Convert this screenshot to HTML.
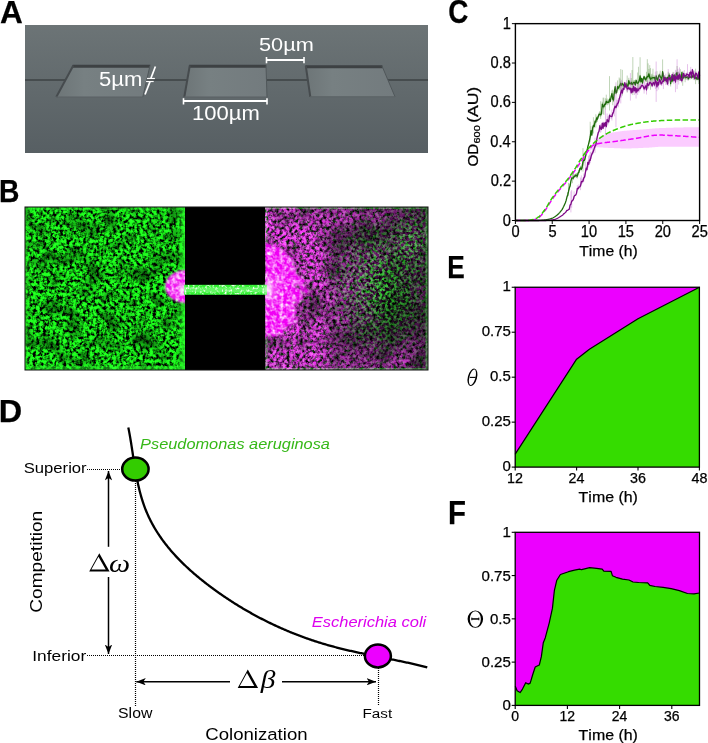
<!DOCTYPE html><html><head><meta charset="utf-8"><style>html,body{margin:0;padding:0;background:#fff;}svg{display:block;}text{font-kerning:none;stroke-width:0.25px;paint-order:stroke;}</style></head><body><svg width="708" height="743" viewBox="0 0 708 743">
<rect width="708" height="743" fill="#fff"/>
<defs><linearGradient id="ga" x1="0" y1="0" x2="0" y2="1"><stop offset="0" stop-color="#6c7476"/><stop offset="1" stop-color="#575f63"/></linearGradient><linearGradient id="gt" x1="0" y1="0" x2="1" y2="0"><stop offset="0" stop-color="#6d7577"/><stop offset="0.3" stop-color="#778082"/><stop offset="1" stop-color="#737b7e"/></linearGradient></defs>
<rect x="25" y="25" width="403" height="128" fill="url(#ga)"/>
<rect x="25" y="79.2" width="403" height="1.6" fill="#404547"/>
<polygon points="73,65.5 150,65.5 142.8,97 56,97" fill="url(#gt)"/>
<polygon points="72.7,64.7 150.3,64.7 149.5,67.7 71.81,67.7" fill="#3d4143"/>
<line x1="73.3" y1="65.5" x2="56.3" y2="97" stroke="#464b4e" stroke-width="2"/>
<line x1="150" y1="65.5" x2="142.8" y2="97" stroke="#50575a" stroke-width="1"/>
<line x1="56" y1="97" x2="142.8" y2="97" stroke="#5a6164" stroke-width="1"/>
<polygon points="189.5,65.5 266,65.5 267,97 184,97" fill="url(#gt)"/>
<polygon points="189.2,64.7 266.3,64.7 266.07,67.7 189.12,67.7" fill="#3d4143"/>
<line x1="189.8" y1="65.5" x2="184.3" y2="97" stroke="#464b4e" stroke-width="2"/>
<line x1="266" y1="65.5" x2="267" y2="97" stroke="#50575a" stroke-width="1"/>
<line x1="184" y1="97" x2="267" y2="97" stroke="#5a6164" stroke-width="1"/>
<polygon points="305.5,66 382,66 395,96.8 310,96.8" fill="url(#gt)"/>
<polygon points="305.2,65.2 382.3,65.2 382.93,68.2 305.82,68.2" fill="#3d4143"/>
<line x1="305.8" y1="66" x2="310.3" y2="96.8" stroke="#464b4e" stroke-width="2"/>
<line x1="382" y1="66" x2="395" y2="96.8" stroke="#50575a" stroke-width="1"/>
<line x1="310" y1="96.8" x2="395" y2="96.8" stroke="#5a6164" stroke-width="1"/>
<text x="99.02" y="85.6" font-size="19.62" font-weight="normal" font-style="normal" fill="#ffffff" stroke="none" font-family='"Liberation Sans", sans-serif' textLength="43.34" lengthAdjust="spacingAndGlyphs" >5µm</text>
<line x1="155.4" y1="66.5" x2="150.9" y2="78.3" stroke="#ffffff" stroke-width="1.7"/>
<line x1="150" y1="81.6" x2="145" y2="94.5" stroke="#ffffff" stroke-width="1.7"/>
<line x1="147" y1="78.5" x2="154.9" y2="78.5" stroke="#ffffff" stroke-width="1.2"/>
<line x1="146.1" y1="81.5" x2="153.7" y2="81.5" stroke="#ffffff" stroke-width="1.2"/>
<line x1="183.5" y1="101" x2="267" y2="101" stroke="#ffffff" stroke-width="2"/>
<line x1="183.5" y1="98.2" x2="183.5" y2="104.5" stroke="#ffffff" stroke-width="1.6"/>
<line x1="267" y1="98.2" x2="267" y2="104.5" stroke="#ffffff" stroke-width="1.6"/>
<text x="192.12" y="119.9" font-size="19.33" font-weight="normal" font-style="normal" fill="#ffffff" stroke="none" font-family='"Liberation Sans", sans-serif' textLength="67.73" lengthAdjust="spacingAndGlyphs" >100µm</text>
<line x1="266.5" y1="60" x2="304" y2="60" stroke="#ffffff" stroke-width="2"/>
<line x1="266.5" y1="57" x2="266.5" y2="63.3" stroke="#ffffff" stroke-width="1.6"/>
<line x1="304" y1="57" x2="304" y2="63.3" stroke="#ffffff" stroke-width="1.6"/>
<text x="259.03" y="51.2" font-size="18.46" font-weight="normal" font-style="normal" fill="#ffffff" stroke="none" font-family='"Liberation Sans", sans-serif' textLength="54.8" lengthAdjust="spacingAndGlyphs" >50µm</text>
<defs><filter id="ngreen" x="0" y="0" width="1" height="1" color-interpolation-filters="sRGB"><feTurbulence type="fractalNoise" baseFrequency="0.3" numOctaves="3" seed="3" result="n"/><feColorMatrix in="n" type="matrix" values="0.32 0 0 0 -0.09  3.2 0 0 0 -0.92  0.32 0 0 0 -0.09  0 0 0 0 1" result="c"/><feTurbulence type="fractalNoise" baseFrequency="0.06" numOctaves="2" seed="11" result="l"/><feColorMatrix in="l" type="matrix" values="1.5 0 0 0 0.2  1.5 0 0 0 0.2  1.5 0 0 0 0.2  0 0 0 0 1" result="lm"/><feComposite in="c" in2="lm" operator="arithmetic" k1="1" k2="0" k3="0" k4="0" result="c"/><feGaussianBlur in="c" stdDeviation="0.55"/></filter><filter id="nmag" x="0" y="0" width="1" height="1" color-interpolation-filters="sRGB"><feTurbulence type="fractalNoise" baseFrequency="0.3" numOctaves="3" seed="9" result="n"/><feColorMatrix in="n" type="matrix" values="2.7 0 0 0 -0.68  0.54 0 0 0 -0.14  2.7 0 0 0 -0.68  0 0 0 0 1" result="c"/><feTurbulence type="fractalNoise" baseFrequency="0.04" numOctaves="2" seed="4" result="l"/><feColorMatrix in="l" type="matrix" values="1.4 0 0 0 0.15  1.4 0 0 0 0.15  1.4 0 0 0 0.15  0 0 0 0 1" result="lm"/><feComposite in="c" in2="lm" operator="arithmetic" k1="1" k2="0" k3="0" k4="0" result="c"/><feGaussianBlur in="c" stdDeviation="0.6"/></filter><filter id="ngreen2" x="0" y="0" width="1" height="1" color-interpolation-filters="sRGB"><feTurbulence type="fractalNoise" baseFrequency="0.34" numOctaves="2" seed="21" result="n"/><feColorMatrix in="n" type="matrix" values="0.57 0 0 0 -0.22  3.8 0 0 0 -1.5  0.57 0 0 0 -0.22  0 0 0 0 1" result="c"/><feGaussianBlur in="c" stdDeviation="0.55"/></filter><filter id="nwhite" x="0" y="0" width="1" height="1" color-interpolation-filters="sRGB"><feTurbulence type="fractalNoise" baseFrequency="0.25" numOctaves="3" seed="31" result="n"/><feColorMatrix in="n" type="matrix" values="3 0 0 0 -1.15  2.1 0 0 0 -0.8  3 0 0 0 -1.15  0 0 0 0 1" result="c"/><feGaussianBlur in="c" stdDeviation="0.6"/></filter><filter id="nwhite2" x="0" y="0" width="1" height="1" color-interpolation-filters="sRGB"><feTurbulence type="fractalNoise" baseFrequency="0.4" numOctaves="2" seed="41" result="n"/><feColorMatrix in="n" type="matrix" values="2.8 0 0 0 -1.4  3.5 0 0 0 -1.75  2.8 0 0 0 -1.4  0 0 0 0 1" result="c"/><feGaussianBlur in="c" stdDeviation="0.5"/></filter><linearGradient id="mmag" x1="265" y1="0" x2="428" y2="0" gradientUnits="userSpaceOnUse"><stop offset="0" stop-color="#fff"/><stop offset="0.35" stop-color="#f0f0f0"/><stop offset="0.58" stop-color="#707070"/><stop offset="1" stop-color="#505050"/></linearGradient><radialGradient id="rg" cx="0.5" cy="0.5" r="0.5"><stop offset="0" stop-color="#fff" stop-opacity="1"/><stop offset="1" stop-color="#fff" stop-opacity="0"/></radialGradient><radialGradient id="rgk" cx="0.5" cy="0.5" r="0.5"><stop offset="0" stop-color="#000" stop-opacity="0.8"/><stop offset="1" stop-color="#000" stop-opacity="0"/></radialGradient><mask id="mm"><rect x="265" y="207" width="163" height="163" fill="url(#mmag)"/><ellipse cx="395" cy="362" rx="60" ry="28" fill="url(#rg)" opacity="0.7"/><ellipse cx="360" cy="215" rx="50" ry="20" fill="url(#rg)" opacity="0.5"/><ellipse cx="392" cy="300" rx="30" ry="50" fill="url(#rgk)"/></mask><mask id="mg"><rect x="265" y="207" width="163" height="163" fill="#383838"/><ellipse cx="380" cy="285" rx="55" ry="75" fill="url(#rg)" opacity="0.75"/><ellipse cx="412" cy="240" rx="25" ry="35" fill="url(#rg)" opacity="0.6"/></mask><filter id="blobn" x="0" y="0" width="1" height="1" color-interpolation-filters="sRGB"><feTurbulence type="fractalNoise" baseFrequency="0.07" numOctaves="3" seed="5" result="t"/><feDisplacementMap in="SourceGraphic" in2="t" scale="26" xChannelSelector="R" yChannelSelector="G"/><feGaussianBlur stdDeviation="1.8"/></filter><mask id="mblob"><g filter="url(#blobn)"><rect x="230" y="225" width="100" height="130" fill="#000"/><ellipse cx="268" cy="292" rx="33" ry="45" fill="#fff"/></g></mask><mask id="mblobW"><ellipse cx="270" cy="290" rx="12" ry="20" fill="url(#rg)"/></mask><filter id="bl1"><feGaussianBlur stdDeviation="1.2"/></filter><mask id="mblobL"><g filter="url(#bl1)"><ellipse cx="186" cy="286.5" rx="21" ry="16.5" fill="#fff"/></g></mask><linearGradient id="edgeg" x1="0" y1="0" x2="1" y2="0"><stop offset="0" stop-color="#20ff20" stop-opacity="0"/><stop offset="1" stop-color="#30ff30" stop-opacity="0.85"/></linearGradient><linearGradient id="edgeg2" x1="0" y1="0" x2="1" y2="0"><stop offset="0" stop-color="#30ff30" stop-opacity="0.6"/><stop offset="1" stop-color="#20ff20" stop-opacity="0"/></linearGradient><filter id="bl05"><feGaussianBlur stdDeviation="0.6"/></filter><clipPath id="cCh"><rect x="185" y="285" width="81" height="9.5"/></clipPath><radialGradient id="rgw" cx="0.5" cy="0.5" r="0.5"><stop offset="0" stop-color="#e0ffe0" stop-opacity="0.8"/><stop offset="1" stop-color="#e0ffe0" stop-opacity="0"/></radialGradient><clipPath id="cR"><rect x="265.5" y="207" width="162.5" height="163"/></clipPath><clipPath id="cL"><rect x="140" y="207" width="45" height="163"/></clipPath></defs>
<rect x="25" y="207" width="403" height="163" fill="#000"/>
<rect x="25" y="207" width="160" height="163" fill="#000" filter="url(#ngreen)"/>
<rect x="177" y="207" width="8" height="163" fill="url(#edgeg)"/>
<rect x="25" y="207" width="5" height="163" fill="url(#edgeg2)"/>
<rect x="25" y="207" width="160" height="3" fill="#30ff30" opacity="0.35"/>
<rect x="25" y="366" width="160" height="4" fill="#30ff30" opacity="0.45"/>
<g mask="url(#mm)"><rect x="265" y="207" width="163" height="163" fill="#000" filter="url(#nmag)"/></g>
<g mask="url(#mg)" style="mix-blend-mode:screen"><rect x="265" y="207" width="163" height="163" fill="#000" filter="url(#ngreen2)"/></g>
<g opacity="0.45" style="mix-blend-mode:screen"><rect x="265" y="207" width="163" height="2" fill="#20d020"/><rect x="265" y="368" width="163" height="2" fill="#20d020"/><rect x="425.5" y="207" width="2.5" height="163" fill="#20d020"/><rect x="265.5" y="207" width="2" height="163" fill="#20d020"/></g>
<g clip-path="url(#cR)"><g mask="url(#mblob)"><rect x="230" y="225" width="100" height="130" fill="#f000f4"/><rect x="230" y="225" width="100" height="130" fill="#000" filter="url(#nwhite)" style="mix-blend-mode:screen"/></g><g mask="url(#mblobW)"><rect x="255" y="265" width="30" height="50" fill="#ffe8ff" opacity="0.45"/></g></g>
<g clip-path="url(#cL)"><g mask="url(#mblobL)"><rect x="150" y="255" width="45" height="60" fill="#f018f0"/><rect x="150" y="255" width="45" height="60" fill="#000" filter="url(#nwhite)" style="mix-blend-mode:screen"/></g></g>
<g filter="url(#bl05)"><rect x="184" y="284.8" width="83" height="10" fill="#33f033"/><rect x="184" y="287.3" width="83" height="5" fill="#a0ffa0" opacity="0.45"/></g>
<g clip-path="url(#cCh)" style="mix-blend-mode:screen"><rect x="185" y="285" width="81" height="9.5" fill="#000" filter="url(#nwhite2)"/></g>
<ellipse cx="182" cy="289" rx="5" ry="8" fill="url(#rgw)" style="mix-blend-mode:screen"/>
<ellipse cx="268" cy="289" rx="6" ry="9" fill="url(#rgw)" style="mix-blend-mode:screen"/>
<rect x="25" y="207" width="403" height="163" fill="none" stroke="#111" stroke-width="1"/>
<path d="M583.19 155.54L584.16 154.24L585.14 152.97L586.12 151.71L587.1 150.48L588.08 149.27L589.06 148.09L590.03 146.91L591.01 145.71L591.99 144.52L592.97 143.36L593.95 142.25L594.92 141.21L595.9 140.27L596.88 139.43L597.86 138.62L598.84 137.85L599.82 137.11L600.79 136.44L601.77 135.84L602.75 135.32L603.73 134.9L604.71 134.56L605.69 134.24L606.66 133.94L607.64 133.66L608.62 133.39L609.6 133.14L610.58 132.91L611.56 132.7L612.53 132.5L613.51 132.31L614.49 132.14L615.47 131.97L616.45 131.82L617.43 131.68L618.4 131.54L619.38 131.42L620.36 131.3L621.34 131.18L622.32 131.07L623.29 130.97L624.27 130.87L625.25 130.77L626.23 130.68L627.21 130.6L628.19 130.51L629.16 130.43L630.14 130.35L631.12 130.27L632.1 130.2L633.08 130.12L634.06 130.05L635.03 129.98L636.01 129.91L636.99 129.83L637.97 129.76L638.95 129.69L639.93 129.61L640.9 129.54L641.88 129.46L642.86 129.38L643.84 129.3L644.82 129.21L645.8 129.13L646.77 129.05L647.75 128.97L648.73 128.89L649.71 128.8L650.69 128.73L651.66 128.65L652.64 128.57L653.62 128.5L654.6 128.43L655.58 128.36L656.56 128.29L657.53 128.23L658.51 128.18L659.49 128.12L660.47 128.07L661.45 128.03L662.43 127.99L663.4 127.96L664.38 127.93L665.36 127.89L666.34 127.86L667.32 127.83L668.3 127.79L669.27 127.76L670.25 127.73L671.23 127.7L672.21 127.67L673.19 127.64L674.16 127.61L675.14 127.59L676.12 127.56L677.1 127.53L678.08 127.51L679.06 127.48L680.03 127.46L681.01 127.43L681.99 127.41L682.97 127.39L683.95 127.37L684.93 127.35L685.9 127.33L686.88 127.31L687.86 127.29L688.84 127.28L689.82 127.26L690.8 127.25L691.77 127.24L692.75 127.23L693.73 127.22L694.71 127.21L695.69 127.21L696.67 127.2L697.64 127.2L698.62 127.19L699.6 127.19L699.6 146.68L698.62 146.68L697.64 146.68L696.67 146.68L695.69 146.68L694.71 146.68L693.73 146.68L692.75 146.68L691.77 146.68L690.8 146.68L689.82 146.68L688.84 146.68L687.86 146.68L686.88 146.68L685.9 146.68L684.93 146.68L683.95 146.68L682.97 146.68L681.99 146.68L681.01 146.68L680.03 146.68L679.06 146.68L678.08 146.68L677.1 146.68L676.12 146.68L675.14 146.68L674.16 146.68L673.19 146.68L672.21 146.68L671.23 146.68L670.25 146.68L669.27 146.68L668.3 146.68L667.32 146.68L666.34 146.68L665.36 146.68L664.38 146.68L663.4 146.68L662.43 146.68L661.45 146.7L660.47 146.73L659.49 146.78L658.51 146.84L657.53 146.91L656.56 146.99L655.58 147.07L654.6 147.16L653.62 147.25L652.64 147.33L651.66 147.42L650.69 147.5L649.71 147.57L648.73 147.63L647.75 147.68L646.77 147.73L645.8 147.77L644.82 147.82L643.84 147.87L642.86 147.92L641.88 147.97L640.9 148.01L639.93 148.06L638.95 148.1L637.97 148.15L636.99 148.19L636.01 148.23L635.03 148.27L634.06 148.3L633.08 148.33L632.1 148.36L631.12 148.39L630.14 148.41L629.16 148.43L628.19 148.44L627.21 148.45L626.23 148.45L625.25 148.45L624.27 148.45L623.29 148.43L622.32 148.42L621.34 148.4L620.36 148.37L619.38 148.35L618.4 148.32L617.43 148.28L616.45 148.25L615.47 148.21L614.49 148.17L613.51 148.12L612.53 148.08L611.56 148.03L610.58 147.99L609.6 147.94L608.62 147.89L607.64 147.84L606.66 147.8L605.69 147.75L604.71 147.71L603.73 147.66L602.75 147.61L601.77 147.54L600.79 147.47L599.82 147.41L598.84 147.35L597.86 147.3L596.88 147.27L595.9 147.31L594.92 147.54L593.95 147.97L592.97 148.54L591.99 149.23L591.01 149.99L590.03 150.81L589.06 151.62L588.08 152.54L587.1 153.66L586.12 154.94L585.14 156.35L584.16 157.87L583.19 159.48Z" fill="#ec00ff" fill-opacity="0.2"/>
<path d="M515.4 220.5L516.2 220.5L517.01 220.5L517.81 220.5L518.62 220.5L519.42 220.5L520.23 220.5L521.03 220.5L521.83 220.5L522.64 220.5L523.44 220.5L524.25 220.5L525.05 220.5L525.86 220.5L526.66 220.5L527.47 220.5L528.27 220.5L529.07 220.5L529.88 220.5L530.68 220.5L531.49 220.5L532.29 220.5L533.1 220.5L533.9 220.5L534.7 220.5L535.51 220.5L536.31 220.5L537.12 220.5L537.92 220.5L538.73 220.48L539.53 220.44L540.34 220.39L541.14 220.32L541.94 220.24L542.75 220.16L543.55 220.07L544.36 219.97L545.16 219.87L545.97 219.76L546.77 219.62L547.57 219.47L548.38 219.29L549.18 219.09L549.99 218.87L550.79 218.63L551.6 218.36L552.4 218.08L553.21 217.73L554.01 217.3L554.81 216.8L555.62 216.24L556.42 215.61L557.23 214.93L558.03 214.19L558.84 213.41L559.64 212.59L560.44 211.62L561.25 210.61L562.05 209.61L562.86 208.08L563.66 206.41L564.47 204.47L565.27 202.7L566.08 200.2L566.88 196.73L567.68 194.18L568.49 190.84L569.29 187.06L570.1 185.03L570.9 179.96L571.71 176.44L572.51 176.64L573.31 176.53L574.12 174.42L574.92 174.45L575.73 173.03L576.53 173.58L577.34 173.86L578.14 170.66L578.94 169.68L579.75 166.36L580.55 165.65L581.36 166.95L582.16 164.62L582.97 159.32L583.77 157.7L584.58 158.02L585.38 154.62L586.18 151.35L586.99 148.68L587.79 144.51L588.6 141.81L589.4 138.33L590.21 134.62L591.01 128.28L591.81 132.71L592.62 125.66L593.42 123.07L594.23 124.3L595.03 118.89L595.84 119.77L596.64 115.5L597.45 116.74L598.25 114.08L599.05 111.75L599.86 111.98L600.66 112.43L601.47 111.25L602.27 101.82L603.08 104.21L603.88 104.46L604.68 101.87L605.49 101.94L606.29 99.08L607.1 100.23L607.9 99.56L608.71 100.27L609.51 96.75L610.32 98.99L611.12 94.24L611.92 91.27L612.73 96.72L613.53 97.59L614.34 89.73L615.14 84.36L615.95 90.83L616.75 89.89L617.55 84.31L618.36 85.91L619.16 84.02L619.97 83.08L620.77 81L621.58 82.89L622.38 81.29L623.19 82.18L623.99 83.55L624.79 82.35L625.6 83.66L626.4 81.54L627.21 83.95L628.01 83.84L628.82 78.27L629.62 81.49L630.42 81.42L631.23 80.12L632.03 82.04L632.84 81.51L633.64 79.93L634.45 79.97L635.25 82.7L636.06 77.92L636.86 80.48L637.66 80.93L638.47 80.05L639.27 78.42L640.08 73.59L640.88 79.29L641.69 76.14L642.49 80.99L643.29 76.26L644.1 74.21L644.9 76.58L645.71 77.35L646.51 75.4L647.32 74.32L648.12 74.33L648.92 71.43L649.73 75.19L650.53 76.87L651.34 75.82L652.14 75.67L652.95 75.24L653.75 75.52L654.56 75.06L655.36 79.04L656.16 73.63L656.97 76.67L657.77 77.96L658.58 74.04L659.38 72.57L660.19 74.35L660.99 75.07L661.79 77.44L662.6 69.2L663.4 73.52L664.21 77.89L665.01 77.11L665.82 75.23L666.62 78.79L667.43 75.06L668.23 76.41L669.03 72.75L669.84 73.29L670.64 81.2L671.45 75.19L672.25 78.72L673.06 72.74L673.86 74.7L674.66 73.79L675.47 77.19L676.27 70.83L677.08 70.32L677.88 76.91L678.69 73.7L679.49 75.88L680.3 74.39L681.1 77.01L681.9 70.16L682.71 76.24L683.51 74.74L684.32 72.98L685.12 75.45L685.93 74.56L686.73 75.27L687.53 74.34L688.34 76.59L689.14 75L689.95 74.51L690.75 74.8L691.56 73.96L692.36 74.74L693.17 72.49L693.97 74.85L694.77 74.47L695.58 75.64L696.38 75.38L697.19 77.02L697.99 73.21L698.8 76.85L699.6 76.05L699.6 80.78L698.8 81.58L697.99 77.93L697.19 81.74L696.38 80.11L695.58 80.37L694.77 79.19L693.97 79.57L693.17 77.22L692.36 79.46L691.56 78.69L690.75 79.52L689.95 79.24L689.14 79.73L688.34 81.31L687.53 79.06L686.73 79.99L685.93 79.29L685.12 80.17L684.32 77.7L683.51 79.46L682.71 80.97L681.9 74.88L681.1 81.73L680.3 79.12L679.49 80.61L678.69 78.43L677.88 81.63L677.08 75.05L676.27 75.55L675.47 81.91L674.66 78.51L673.86 79.42L673.06 77.46L672.25 83.44L671.45 79.91L670.64 85.93L669.84 78.02L669.03 77.47L668.23 81.14L667.43 79.78L666.62 83.51L665.82 79.96L665.01 81.83L664.21 82.61L663.4 78.24L662.6 73.93L661.79 82.16L660.99 79.8L660.19 79.08L659.38 77.29L658.58 78.76L657.77 82.69L656.97 81.39L656.16 78.35L655.36 83.77L654.56 79.78L653.75 80.24L652.95 79.97L652.14 80.39L651.34 80.54L650.53 81.6L649.73 79.91L648.92 76.15L648.12 79.05L647.32 79.04L646.51 80.13L645.71 82.07L644.9 81.31L644.1 78.94L643.29 80.99L642.49 85.71L641.69 80.87L640.88 84.01L640.08 78.32L639.27 83.15L638.47 84.77L637.66 85.66L636.86 85.2L636.06 82.64L635.25 87.43L634.45 84.69L633.64 84.66L632.84 86.23L632.03 86.77L631.23 84.84L630.42 86.15L629.62 86.21L628.82 82.99L628.01 88.56L627.21 88.67L626.4 86.27L625.6 88.39L624.79 87.07L623.99 88.27L623.19 86.91L622.38 86.02L621.58 87.61L620.77 85.73L619.97 87.8L619.16 88.75L618.36 90.63L617.55 89.03L616.75 94.62L615.95 95.56L615.14 89.09L614.34 94.45L613.53 102.31L612.73 101.44L611.92 95.99L611.12 98.96L610.32 103.71L609.51 101.47L608.71 104.99L607.9 104.28L607.1 104.95L606.29 103.8L605.49 106.66L604.68 106.59L603.88 109.19L603.08 108.93L602.27 106.55L601.47 115.97L600.66 117.15L599.86 116.71L599.05 116.47L598.25 118.8L597.45 121.47L596.64 120.22L595.84 124.5L595.03 123.61L594.23 129.02L593.42 127.79L592.62 130.39L591.81 137.43L591.01 133L590.21 139.34L589.4 143.06L588.6 146.53L587.79 149.23L586.99 153.4L586.18 156.08L585.38 159.35L584.58 162.74L583.77 162.43L582.97 164.04L582.16 169.35L581.36 171.67L580.55 170.38L579.75 171.08L578.94 174.4L578.14 175.38L577.34 178.36L576.53 177.83L575.73 177.02L574.92 178.18L574.12 177.89L573.31 179.74L572.51 179.59L571.71 179.14L570.9 182.4L570.1 187.21L569.29 188.99L568.49 192.5L567.68 195.59L566.88 197.88L566.08 201.09L565.27 203.33L564.47 204.84L563.66 206.53L562.86 208.08L562.05 209.61L561.25 210.61L560.44 211.62L559.64 212.59L558.84 213.41L558.03 214.19L557.23 214.93L556.42 215.61L555.62 216.24L554.81 216.8L554.01 217.3L553.21 217.73L552.4 218.08L551.6 218.36L550.79 218.63L549.99 218.87L549.18 219.09L548.38 219.29L547.57 219.47L546.77 219.62L545.97 219.76L545.16 219.87L544.36 219.97L543.55 220.07L542.75 220.16L541.94 220.24L541.14 220.32L540.34 220.39L539.53 220.44L538.73 220.48L537.92 220.5L537.12 220.5L536.31 220.5L535.51 220.5L534.7 220.5L533.9 220.5L533.1 220.5L532.29 220.5L531.49 220.5L530.68 220.5L529.88 220.5L529.07 220.5L528.27 220.5L527.47 220.5L526.66 220.5L525.86 220.5L525.05 220.5L524.25 220.5L523.44 220.5L522.64 220.5L521.83 220.5L521.03 220.5L520.23 220.5L519.42 220.5L518.62 220.5L517.81 220.5L517.01 220.5L516.2 220.5L515.4 220.5Z" fill="#3a7a20" fill-opacity="0.25"/>
<path d="M567.68 192.07V196.45M568.49 182.85V195.93M569.29 183.65V189.64M572.51 171.59V183.21M573.31 172.1V180.03M574.12 173.99V177.44M576.53 173.29V177.83M577.34 173.73V178.43M578.94 170.03V173.12M580.55 165.78V170.13M582.16 163.81V168.97M582.97 148.1V171.61M583.77 153.43V165.71M586.99 148.95V151.76M590.21 121.75V142.25M591.01 126.22V133.67M593.42 117.21V133.46M595.84 114.27V127.58M597.45 116.32V121.79M599.86 111.08V115.81M600.66 101.23V118.89M601.47 111.27V115.36M602.27 101.71V105.06M603.08 97.71V114.23M603.88 97.63V114.88M605.49 98.27V109.62M606.29 94.66V104.41M607.1 98.42V105.37M609.51 76.13V110.47M611.92 90.42V95.68M612.73 89.66V105.2M613.53 93.61V102.08M617.55 80.46V90.44M619.16 77.49V90.32M619.97 78.59V89.55M620.77 69.11V94.54M622.38 69.85V95.65M623.99 83.7V87.18M625.6 83.53V87.6M627.21 75.54V92.6M628.01 82.93V88.25M628.82 77.76V83.4M631.23 78.02V84.49M632.03 70.05V92.74M632.84 57.06V95.1M634.45 80.18V83.29M637.66 72.52V89.84M638.47 66.77V90.48M640.08 57.23V88.56M640.88 79.18V83.12M645.71 76.72V81.43M646.51 71.79V81.96M647.32 59.19V88.74M648.12 63.4V88.63M648.92 68.96V78.34M649.73 65.15V83.99M650.53 68.13V89.76M651.34 74.3V81.3M652.14 73.66V82.28M652.95 68.73V86.25M656.97 71.18V85.8M660.19 70.72V80.43M661.79 75.44V81.17M662.6 59.43V75.38M663.4 73.15V77.71M664.21 74.95V82.61M668.23 71.8V84.17M669.03 72.83V76.06M670.64 77.46V86.49M672.25 78.44V82.55M673.06 71.82V76.82M677.08 66.03V76.88M678.69 71.58V79.09M679.49 74.12V80.92M680.3 69.18V80.77M682.71 71.14V85.78M685.12 73.18V82.23M691.56 74.02V78.48M693.17 72.33V76.74M693.97 70.52V80.04M694.77 73.91V77.85M695.58 68.71V84.17M696.38 75.07V79.56M697.99 72.57V78.3M698.8 74.14V84.04M699.6 75.35V80.37" stroke="#3a7a20" stroke-opacity="0.4" stroke-width="0.8" fill="none"/>
<path d="M515.4 220.5L516.2 220.5L517.01 220.5L517.81 220.5L518.62 220.5L519.42 220.5L520.23 220.5L521.03 220.5L521.83 220.5L522.64 220.5L523.44 220.5L524.25 220.5L525.05 220.5L525.86 220.5L526.66 220.5L527.47 220.5L528.27 220.5L529.07 220.5L529.88 220.5L530.68 220.5L531.49 220.5L532.29 220.5L533.1 220.5L533.9 220.5L534.7 220.5L535.51 220.5L536.31 220.5L537.12 220.5L537.92 220.5L538.73 220.48L539.53 220.44L540.34 220.39L541.14 220.32L541.94 220.24L542.75 220.16L543.55 220.07L544.36 219.97L545.16 219.87L545.97 219.76L546.77 219.62L547.57 219.47L548.38 219.29L549.18 219.09L549.99 218.87L550.79 218.63L551.6 218.36L552.4 218.08L553.21 217.73L554.01 217.3L554.81 216.8L555.62 216.24L556.42 215.61L557.23 214.93L558.03 214.19L558.84 213.41L559.64 212.59L560.44 211.62L561.25 210.61L562.05 209.61L562.86 208.08L563.66 206.47L564.47 204.66L565.27 203.01L566.08 200.65L566.88 197.31L567.68 194.89L568.49 191.67L569.29 188.02L570.1 186.12L570.9 181.18L571.71 177.79L572.51 178.12L573.31 178.13L574.12 176.16L574.92 176.32L575.73 175.03L576.53 175.71L577.34 176.11L578.14 173.02L578.94 172.04L579.75 168.72L580.55 168.02L581.36 169.31L582.16 166.98L582.97 161.68L583.77 160.06L584.58 160.38L585.38 156.98L586.18 153.71L586.99 151.04L587.79 146.87L588.6 144.17L589.4 140.69L590.21 136.98L591.01 130.64L591.81 135.07L592.62 128.03L593.42 125.43L594.23 126.66L595.03 121.25L595.84 122.14L596.64 117.86L597.45 119.11L598.25 116.44L599.05 114.11L599.86 114.35L600.66 114.79L601.47 113.61L602.27 104.18L603.08 106.57L603.88 106.82L604.68 104.23L605.49 104.3L606.29 101.44L607.1 102.59L607.9 101.92L608.71 102.63L609.51 99.11L610.32 101.35L611.12 96.6L611.92 93.63L612.73 99.08L613.53 99.95L614.34 92.09L615.14 86.73L615.95 93.19L616.75 92.25L617.55 86.67L618.36 88.27L619.16 86.38L619.97 85.44L620.77 83.36L621.58 85.25L622.38 83.66L623.19 84.54L623.99 85.91L624.79 84.71L625.6 86.02L626.4 83.91L627.21 86.31L628.01 86.2L628.82 80.63L629.62 83.85L630.42 83.78L631.23 82.48L632.03 84.4L632.84 83.87L633.64 82.3L634.45 82.33L635.25 85.07L636.06 80.28L636.86 82.84L637.66 83.29L638.47 82.41L639.27 80.79L640.08 75.96L640.88 81.65L641.69 78.5L642.49 83.35L643.29 78.62L644.1 76.58L644.9 78.95L645.71 79.71L646.51 77.77L647.32 76.68L648.12 76.69L648.92 73.79L649.73 77.55L650.53 79.24L651.34 78.18L652.14 78.03L652.95 77.6L653.75 77.88L654.56 77.42L655.36 81.41L656.16 75.99L656.97 79.03L657.77 80.32L658.58 76.4L659.38 74.93L660.19 76.72L660.99 77.43L661.79 79.8L662.6 71.57L663.4 75.88L664.21 80.25L665.01 79.47L665.82 77.6L666.62 81.15L667.43 77.42L668.23 78.78L669.03 75.11L669.84 75.66L670.64 83.57L671.45 77.55L672.25 81.08L673.06 75.1L673.86 77.06L674.66 76.15L675.47 79.55L676.27 73.19L677.08 72.68L677.88 79.27L678.69 76.07L679.49 78.24L680.3 76.75L681.1 79.37L681.9 72.52L682.71 78.6L683.51 77.1L684.32 75.34L685.12 77.81L685.93 76.92L686.73 77.63L687.53 76.7L688.34 78.95L689.14 77.37L689.95 76.87L690.75 77.16L691.56 76.33L692.36 77.1L693.17 74.85L693.97 77.21L694.77 76.83L695.58 78.01L696.38 77.74L697.19 79.38L697.99 75.57L698.8 79.22L699.6 78.41" stroke="#1d6b0a" stroke-width="1.3" fill="none" stroke-linejoin="round"/>
<path d="M515.4 220.5L516.2 220.5L517.01 220.5L517.81 220.5L518.62 220.5L519.42 220.5L520.23 220.5L521.03 220.5L521.83 220.5L522.64 220.5L523.44 220.5L524.25 220.5L525.05 220.5L525.86 220.5L526.66 220.5L527.47 220.5L528.27 220.5L529.07 220.5L529.88 220.5L530.68 220.5L531.49 220.5L532.29 220.5L533.1 220.5L533.9 220.5L534.7 220.5L535.51 220.5L536.31 220.5L537.12 220.5L537.92 220.5L538.73 220.5L539.53 220.5L540.34 220.5L541.14 220.5L541.94 220.5L542.75 220.5L543.55 220.5L544.36 220.5L545.16 220.5L545.97 220.48L546.77 220.45L547.57 220.4L548.38 220.34L549.18 220.27L549.99 220.18L550.79 220.09L551.6 219.99L552.4 219.89L553.21 219.74L554.01 219.54L554.81 219.3L555.62 219.03L556.42 218.74L557.23 218.39L558.03 217.99L558.84 217.55L559.64 217.06L560.44 216.4L561.25 215.96L562.05 215.46L562.86 214.96L563.66 213.9L564.47 213.41L565.27 212.61L566.08 211.71L566.88 210.38L567.68 210.35L568.49 209.63L569.29 209.11L570.1 204.97L570.9 204.13L571.71 200.94L572.51 200.32L573.31 199.08L574.12 195.88L574.92 194.63L575.73 194.31L576.53 192.28L577.34 187.28L578.14 187.52L578.94 185.84L579.75 185.24L580.55 184.24L581.36 180.04L582.16 179.82L582.97 179.01L583.77 175.82L584.58 174.87L585.38 170.28L586.18 165.89L586.99 167.18L587.79 159.98L588.6 161.9L589.4 157.86L590.21 157.86L591.01 154.46L591.81 151.77L592.62 150.6L593.42 148.75L594.23 146.06L595.03 143.68L595.84 142.69L596.64 137.44L597.45 133.65L598.25 130.31L599.05 128.88L599.86 123.33L600.66 126.54L601.47 126.93L602.27 120.72L603.08 125.92L603.88 120.52L604.68 123.76L605.49 120.07L606.29 124.28L607.1 117.26L607.9 118.71L608.71 119.57L609.51 112.86L610.32 113.72L611.12 114L611.92 114.23L612.73 111.06L613.53 109.58L614.34 105.84L615.14 103.86L615.95 105.22L616.75 103.01L617.55 100.91L618.36 100.6L619.16 96.93L619.97 93.98L620.77 90.64L621.58 87.69L622.38 90.64L623.19 86.11L623.99 86.88L624.79 80.39L625.6 84.44L626.4 83.24L627.21 86.59L628.01 86.73L628.82 85.05L629.62 86.89L630.42 85.87L631.23 90.53L632.03 86.12L632.84 89.73L633.64 84.08L634.45 88.36L635.25 85.2L636.06 90.37L636.86 86.13L637.66 88.65L638.47 87.41L639.27 85.91L640.08 86.24L640.88 84.57L641.69 83.11L642.49 82.92L643.29 84.16L644.1 86.59L644.9 85.09L645.71 83.53L646.51 87.47L647.32 81.02L648.12 82.95L648.92 82.76L649.73 79.96L650.53 80.37L651.34 81.14L652.14 83.59L652.95 80.56L653.75 80.3L654.56 82.77L655.36 78.41L656.16 79.38L656.97 84.55L657.77 79.82L658.58 82.62L659.38 77.21L660.19 77.71L660.99 81.63L661.79 80.93L662.6 78.56L663.4 79.07L664.21 75.02L665.01 76.49L665.82 78.48L666.62 76.39L667.43 81.82L668.23 76.54L669.03 75.12L669.84 77.19L670.64 78.15L671.45 75.21L672.25 72.03L673.06 75.65L673.86 78.35L674.66 72.62L675.47 79.64L676.27 74.3L677.08 76.47L677.88 73.01L678.69 76.69L679.49 71.81L680.3 73.84L681.1 78.06L681.9 78.42L682.71 74.67L683.51 71.01L684.32 73.38L685.12 73.35L685.93 73.86L686.73 71.61L687.53 72.25L688.34 72.33L689.14 74.94L689.95 70.12L690.75 69.63L691.56 75.3L692.36 67.41L693.17 70.75L693.97 73.3L694.77 76.31L695.58 70.72L696.38 70.9L697.19 73.37L697.99 75.95L698.8 69.64L699.6 73.35L699.6 78.07L698.8 74.36L697.99 80.68L697.19 78.1L696.38 75.62L695.58 75.44L694.77 81.04L693.97 78.03L693.17 75.48L692.36 72.14L691.56 80.03L690.75 74.36L689.95 74.84L689.14 79.67L688.34 77.05L687.53 76.97L686.73 76.33L685.93 78.58L685.12 78.08L684.32 78.1L683.51 75.74L682.71 79.39L681.9 83.15L681.1 82.78L680.3 78.57L679.49 76.53L678.69 81.41L677.88 77.74L677.08 81.19L676.27 79.02L675.47 84.36L674.66 77.34L673.86 83.07L673.06 80.38L672.25 76.75L671.45 79.94L670.64 82.88L669.84 81.91L669.03 79.85L668.23 81.26L667.43 86.54L666.62 81.11L665.82 83.2L665.01 81.21L664.21 79.74L663.4 83.79L662.6 83.29L661.79 85.65L660.99 86.35L660.19 82.43L659.38 81.94L658.58 87.34L657.77 84.54L656.97 89.27L656.16 84.1L655.36 83.13L654.56 87.5L653.75 85.02L652.95 85.29L652.14 88.32L651.34 85.86L650.53 85.09L649.73 84.68L648.92 87.49L648.12 87.67L647.32 85.74L646.51 92.19L645.71 88.25L644.9 89.82L644.1 91.31L643.29 88.88L642.49 87.65L641.69 87.84L640.88 89.29L640.08 90.97L639.27 90.64L638.47 92.14L637.66 93.38L636.86 90.86L636.06 95.09L635.25 89.92L634.45 93.08L633.64 88.81L632.84 94.46L632.03 90.84L631.23 95.25L630.42 90.59L629.62 91.62L628.82 89.78L628.01 91.45L627.21 91.32L626.4 87.96L625.6 89.16L624.79 85.11L623.99 91.61L623.19 90.83L622.38 95.37L621.58 92.41L620.77 95.36L619.97 98.7L619.16 101.66L618.36 105.32L617.55 105.64L616.75 107.74L615.95 109.95L615.14 108.59L614.34 110.57L613.53 114.3L612.73 115.79L611.92 118.95L611.12 118.72L610.32 118.45L609.51 117.58L608.71 124.29L607.9 123.44L607.1 121.98L606.29 129L605.49 124.79L604.68 128.48L603.88 125.25L603.08 130.65L602.27 125.44L601.47 131.66L600.66 131.26L599.86 128.06L599.05 133.61L598.25 135.03L597.45 138.37L596.64 142.16L595.84 147.41L595.03 148.41L594.23 150.79L593.42 153.47L592.62 155.32L591.81 156.5L591.01 159.18L590.21 162.59L589.4 162.58L588.6 166.63L587.79 164.7L586.99 171.91L586.18 170.61L585.38 175L584.58 179.33L583.77 180.03L582.97 182.95L582.16 183.51L581.36 183.47L580.55 187.42L579.75 188.15L578.94 188.49L578.14 189.92L577.34 189.42L576.53 194.16L575.73 195.93L574.92 196L574.12 196.99L573.31 199.93L572.51 200.91L571.71 201.28L570.9 204.21L570.1 204.97L569.29 209.11L568.49 209.63L567.68 210.35L566.88 210.38L566.08 211.71L565.27 212.61L564.47 213.41L563.66 213.9L562.86 214.96L562.05 215.46L561.25 215.96L560.44 216.4L559.64 217.06L558.84 217.55L558.03 217.99L557.23 218.39L556.42 218.74L555.62 219.03L554.81 219.3L554.01 219.54L553.21 219.74L552.4 219.89L551.6 219.99L550.79 220.09L549.99 220.18L549.18 220.27L548.38 220.34L547.57 220.4L546.77 220.45L545.97 220.48L545.16 220.5L544.36 220.5L543.55 220.5L542.75 220.5L541.94 220.5L541.14 220.5L540.34 220.5L539.53 220.5L538.73 220.5L537.92 220.5L537.12 220.5L536.31 220.5L535.51 220.5L534.7 220.5L533.9 220.5L533.1 220.5L532.29 220.5L531.49 220.5L530.68 220.5L529.88 220.5L529.07 220.5L528.27 220.5L527.47 220.5L526.66 220.5L525.86 220.5L525.05 220.5L524.25 220.5L523.44 220.5L522.64 220.5L521.83 220.5L521.03 220.5L520.23 220.5L519.42 220.5L518.62 220.5L517.81 220.5L517.01 220.5L516.2 220.5L515.4 220.5Z" fill="#b040c0" fill-opacity="0.25"/>
<path d="M570.9 191.38V212.42M571.71 190V207.75M574.12 191.38V198.72M576.53 190.76V194.23M577.34 185.12V191.17M578.94 184.15V188.64M580.55 177.59V190.17M581.36 175.4V184.46M582.16 179.47V183.48M582.97 177.58V182.52M583.77 173.54V181.63M585.38 161.2V176.48M586.99 166.31V171.01M588.6 155.74V167.47M589.4 154.72V164.61M590.21 151.84V163.16M591.01 151.62V158.77M592.62 148.71V154.6M595.03 137.68V152.82M600.66 124.14V132.73M605.49 109.42V134.68M607.1 113.48V122.51M607.9 116.15V125.48M611.92 109.59V120.49M613.53 109.38V114.02M614.34 94.44V116.31M615.95 82.34V127.12M616.75 99.73V107.64M617.55 99.85V105.79M618.36 97.94V107.21M620.77 81.61V103.39M621.58 79.85V97.53M626.4 79.95V90.83M627.21 85.35V92.07M630.42 73.08V100.59M632.03 83.26V90.09M633.64 82.69V89.11M634.45 86.28V95M636.06 82.71V98.53M637.66 85.56V95.02M639.27 84.08V92.46M640.88 84.12V88.42M642.49 83.1V86.95M644.1 79.28V93.59M644.9 81.61V90.1M646.51 83.54V94.57M647.32 80.16V86.22M648.12 81.71V86.45M651.34 81.03V85.68M653.75 80.3V84.43M654.56 82.67V86.58M655.36 71.63V88.96M656.16 61.53V101.92M656.97 81.57V91.16M658.58 76.71V89.62M659.38 73.9V83.71M661.79 78.72V85.76M663.4 72.48V89.08M664.21 75.15V79.44M665.82 73.68V85.02M668.23 69.04V86.07M673.86 72.05V84.16M675.47 69.85V92.18M677.08 59.27V89.1M677.88 68.92V81.71M678.69 71.94V84.53M679.49 67.44V79.03M680.3 74.13V77.04M682.71 73.88V78.44M684.32 70.04V78.03M687.53 64.13V80.46M690.75 66.87V76.75M693.97 71.22V79.48M699.6 70.38V79.76" stroke="#b040c0" stroke-opacity="0.4" stroke-width="0.8" fill="none"/>
<path d="M515.4 220.5L516.2 220.5L517.01 220.5L517.81 220.5L518.62 220.5L519.42 220.5L520.23 220.5L521.03 220.5L521.83 220.5L522.64 220.5L523.44 220.5L524.25 220.5L525.05 220.5L525.86 220.5L526.66 220.5L527.47 220.5L528.27 220.5L529.07 220.5L529.88 220.5L530.68 220.5L531.49 220.5L532.29 220.5L533.1 220.5L533.9 220.5L534.7 220.5L535.51 220.5L536.31 220.5L537.12 220.5L537.92 220.5L538.73 220.5L539.53 220.5L540.34 220.5L541.14 220.5L541.94 220.5L542.75 220.5L543.55 220.5L544.36 220.5L545.16 220.5L545.97 220.48L546.77 220.45L547.57 220.4L548.38 220.34L549.18 220.27L549.99 220.18L550.79 220.09L551.6 219.99L552.4 219.89L553.21 219.74L554.01 219.54L554.81 219.3L555.62 219.03L556.42 218.74L557.23 218.39L558.03 217.99L558.84 217.55L559.64 217.06L560.44 216.4L561.25 215.96L562.05 215.46L562.86 214.96L563.66 213.9L564.47 213.41L565.27 212.61L566.08 211.71L566.88 210.38L567.68 210.35L568.49 209.63L569.29 209.11L570.1 204.97L570.9 204.17L571.71 201.11L572.51 200.62L573.31 199.5L574.12 196.43L574.92 195.32L575.73 195.12L576.53 193.22L577.34 188.35L578.14 188.72L578.94 187.17L579.75 186.7L580.55 185.83L581.36 181.75L582.16 181.66L582.97 180.98L583.77 177.92L584.58 177.1L585.38 172.64L586.18 168.25L586.99 169.54L587.79 162.34L588.6 164.26L589.4 160.22L590.21 160.23L591.01 156.82L591.81 154.14L592.62 152.96L593.42 151.11L594.23 148.43L595.03 146.04L595.84 145.05L596.64 139.8L597.45 136.01L598.25 132.67L599.05 131.25L599.86 125.69L600.66 128.9L601.47 129.3L602.27 123.08L603.08 128.28L603.88 122.89L604.68 126.12L605.49 122.43L606.29 126.64L607.1 119.62L607.9 121.07L608.71 121.93L609.51 115.22L610.32 116.09L611.12 116.36L611.92 116.59L612.73 113.43L613.53 111.94L614.34 108.21L615.14 106.23L615.95 107.59L616.75 105.37L617.55 103.27L618.36 102.96L619.16 99.3L619.97 96.34L620.77 93L621.58 90.05L622.38 93L623.19 88.47L623.99 89.24L624.79 82.75L625.6 86.8L626.4 85.6L627.21 88.96L628.01 89.09L628.82 87.42L629.62 89.26L630.42 88.23L631.23 92.89L632.03 88.48L632.84 92.09L633.64 86.45L634.45 90.72L635.25 87.56L636.06 92.73L636.86 88.49L637.66 91.01L638.47 89.78L639.27 88.28L640.08 88.61L640.88 86.93L641.69 85.48L642.49 85.29L643.29 86.52L644.1 88.95L644.9 87.45L645.71 85.89L646.51 89.83L647.32 83.38L648.12 85.31L648.92 85.12L649.73 82.32L650.53 82.73L651.34 83.5L652.14 85.96L652.95 82.93L653.75 82.66L654.56 85.14L655.36 80.77L656.16 81.74L656.97 86.91L657.77 82.18L658.58 84.98L659.38 79.57L660.19 80.07L660.99 83.99L661.79 83.29L662.6 80.92L663.4 81.43L664.21 77.38L665.01 78.85L665.82 80.84L666.62 78.75L667.43 84.18L668.23 78.9L669.03 77.49L669.84 79.55L670.64 80.51L671.45 77.58L672.25 74.39L673.06 78.02L673.86 80.71L674.66 74.98L675.47 82L676.27 76.66L677.08 78.83L677.88 75.38L678.69 79.05L679.49 74.17L680.3 76.21L681.1 80.42L681.9 80.79L682.71 77.03L683.51 73.38L684.32 75.74L685.12 75.72L685.93 76.22L686.73 73.97L687.53 74.61L688.34 74.69L689.14 77.3L689.95 72.48L690.75 71.99L691.56 77.67L692.36 69.77L693.17 73.11L693.97 75.67L694.77 78.67L695.58 73.08L696.38 73.26L697.19 75.74L697.99 78.31L698.8 72L699.6 75.71" stroke="#7d0a86" stroke-width="1.3" fill="none" stroke-linejoin="round"/>
<path d="M515.4 220.5L515.86 220.5L516.32 220.5L516.78 220.5L517.25 220.5L517.71 220.5L518.17 220.5L518.63 220.5L519.09 220.5L519.55 220.5L520.02 220.5L520.48 220.5L520.94 220.5L521.4 220.5L521.86 220.5L522.32 220.5L522.79 220.5L523.25 220.5L523.71 220.5L524.17 220.5L524.63 220.5L525.09 220.5L525.56 220.5L526.02 220.5L526.48 220.5L526.94 220.5L527.4 220.48L527.86 220.46L528.33 220.44L528.79 220.4L529.25 220.36L529.71 220.32L530.17 220.27L530.63 220.21L531.1 220.15L531.56 220.09L532.02 220.02L532.48 219.94L532.94 219.87L533.4 219.79L533.87 219.7L534.33 219.6L534.79 219.47L535.25 219.32L535.71 219.14L536.17 218.94L536.64 218.72L537.1 218.48L537.56 218.22L538.02 217.95L538.48 217.67L538.94 217.37L539.41 217.05L539.87 216.67L540.33 216.25L540.79 215.78L541.25 215.28L541.71 214.74L542.18 214.18L542.64 213.6L543.1 213L543.56 212.39L544.02 211.78L544.48 211.17L544.95 210.56L545.41 209.94L545.87 209.28L546.33 208.6L546.79 207.89L547.25 207.17L547.72 206.43L548.18 205.68L548.64 204.92L549.1 204.16L549.56 203.4L550.02 202.65L550.49 201.9L550.95 201.17L551.41 200.46L551.87 199.77L552.33 199.11L552.79 198.46L553.26 197.82L553.72 197.18L554.18 196.55L554.64 195.93L555.1 195.32L555.56 194.71L556.03 194.11L556.49 193.51L556.95 192.92L557.41 192.33L557.87 191.75L558.33 191.17L558.8 190.59L559.26 190.02L559.72 189.46L560.18 188.9L560.64 188.36L561.1 187.83L561.57 187.3L562.03 186.78L562.49 186.26L562.95 185.75L563.41 185.24L563.87 184.73L564.34 184.21L564.8 183.69L565.26 183.17L565.72 182.63L566.18 182.09L566.64 181.54L567.11 180.97L567.57 180.39L568.03 179.81L568.49 179.22L568.95 178.62L569.41 178.02L569.88 177.41L570.34 176.79L570.8 176.17L571.26 175.55L571.72 174.92L572.18 174.29L572.65 173.65L573.11 173.01L573.57 172.37L574.03 171.73L574.49 171.08L574.95 170.43L575.42 169.77L575.88 169.1L576.34 168.43L576.8 167.75L577.26 167.07L577.72 166.39L578.18 165.71L578.65 165.02L579.11 164.33L579.57 163.64L580.03 162.95L580.49 162.26L580.95 161.58L581.42 160.9L581.88 160.22L582.34 159.52L582.8 158.82L583.26 158.11L583.72 157.39L584.19 156.67L584.65 155.95L585.11 155.23L585.57 154.52L586.03 153.82L586.49 153.13L586.96 152.45L587.42 151.8L587.88 151.16L588.34 150.55L588.8 149.97L589.26 149.41L589.73 148.85L590.19 148.28L590.65 147.72L591.11 147.18L591.57 146.67L592.03 146.2L592.5 145.78L592.96 145.42L593.42 145.15L593.88 144.93L594.34 144.74L594.8 144.56L595.27 144.4L595.73 144.26L596.19 144.13L596.65 144.01L597.11 143.9L597.57 143.8L598.04 143.71L598.5 143.61L598.96 143.53L599.42 143.44L599.88 143.36L600.34 143.28L600.81 143.2L601.27 143.13L601.73 143.06L602.19 142.99L602.65 142.92L603.11 142.86L603.58 142.8L604.04 142.74L604.5 142.68L604.96 142.62L605.42 142.56L605.88 142.51L606.35 142.45L606.81 142.4L607.27 142.35L607.73 142.3L608.19 142.24L608.65 142.19L609.12 142.14L609.58 142.09L610.04 142.04L610.5 141.99L610.96 141.94L611.42 141.89L611.89 141.83L612.35 141.78L612.81 141.72L613.27 141.67L613.73 141.61L614.19 141.55L614.66 141.49L615.12 141.43L615.58 141.37L616.04 141.31L616.5 141.24L616.96 141.18L617.43 141.11L617.89 141.05L618.35 140.98L618.81 140.91L619.27 140.85L619.73 140.78L620.2 140.72L620.66 140.65L621.12 140.58L621.58 140.52L622.04 140.45L622.5 140.38L622.97 140.32L623.43 140.25L623.89 140.18L624.35 140.11L624.81 140.05L625.27 139.98L625.74 139.91L626.2 139.84L626.66 139.78L627.12 139.71L627.58 139.64L628.04 139.57L628.51 139.51L628.97 139.44L629.43 139.37L629.89 139.3L630.35 139.23L630.81 139.17L631.28 139.1L631.74 139.03L632.2 138.97L632.66 138.9L633.12 138.83L633.58 138.76L634.05 138.69L634.51 138.62L634.97 138.55L635.43 138.47L635.89 138.4L636.35 138.32L636.82 138.24L637.28 138.15L637.74 138.07L638.2 137.99L638.66 137.9L639.12 137.81L639.58 137.73L640.05 137.64L640.51 137.55L640.97 137.46L641.43 137.37L641.89 137.28L642.35 137.19L642.82 137.1L643.28 137.02L643.74 136.93L644.2 136.84L644.66 136.75L645.12 136.66L645.59 136.58L646.05 136.49L646.51 136.41L646.97 136.33L647.43 136.25L647.89 136.17L648.36 136.09L648.82 136.02L649.28 135.94L649.74 135.87L650.2 135.8L650.66 135.73L651.13 135.67L651.59 135.61L652.05 135.55L652.51 135.49L652.97 135.44L653.43 135.39L653.9 135.34L654.36 135.29L654.82 135.25L655.28 135.22L655.74 135.18L656.2 135.15L656.67 135.13L657.13 135.11L657.59 135.09L658.05 135.08L658.51 135.07L658.97 135.07L659.44 135.07L659.9 135.07L660.36 135.07L660.82 135.08L661.28 135.09L661.74 135.1L662.21 135.11L662.67 135.12L663.13 135.13L663.59 135.15L664.05 135.17L664.51 135.18L664.98 135.2L665.44 135.22L665.9 135.24L666.36 135.26L666.82 135.29L667.28 135.31L667.75 135.33L668.21 135.36L668.67 135.38L669.13 135.41L669.59 135.44L670.05 135.46L670.52 135.49L670.98 135.52L671.44 135.54L671.9 135.57L672.36 135.6L672.82 135.63L673.29 135.66L673.75 135.68L674.21 135.71L674.67 135.74L675.13 135.76L675.59 135.79L676.06 135.82L676.52 135.84L676.98 135.87L677.44 135.89L677.9 135.92L678.36 135.94L678.83 135.97L679.29 135.99L679.75 136.02L680.21 136.05L680.67 136.08L681.13 136.1L681.6 136.13L682.06 136.16L682.52 136.19L682.98 136.22L683.44 136.24L683.9 136.27L684.37 136.3L684.83 136.33L685.29 136.36L685.75 136.39L686.21 136.42L686.67 136.46L687.14 136.49L687.6 136.52L688.06 136.55L688.52 136.58L688.98 136.61L689.44 136.65L689.91 136.68L690.37 136.71L690.83 136.75L691.29 136.78L691.75 136.81L692.21 136.85L692.68 136.88L693.14 136.92L693.6 136.95L694.06 136.99L694.52 137.02L694.98 137.06L695.45 137.1L695.91 137.13L696.37 137.17L696.83 137.2L697.29 137.24L697.75 137.28L698.22 137.32L698.68 137.35L699.14 137.39L699.6 137.43" stroke="#ee00ff" stroke-width="1.5" fill="none" stroke-dasharray="5.5,2.4"/>
<path d="M515.4 220.5L515.86 220.5L516.32 220.5L516.78 220.5L517.25 220.5L517.71 220.5L518.17 220.5L518.63 220.5L519.09 220.5L519.55 220.5L520.02 220.5L520.48 220.5L520.94 220.5L521.4 220.5L521.86 220.5L522.32 220.5L522.79 220.5L523.25 220.5L523.71 220.5L524.17 220.5L524.63 220.5L525.09 220.5L525.56 220.5L526.02 220.5L526.48 220.5L526.94 220.49L527.4 220.47L527.86 220.44L528.33 220.4L528.79 220.35L529.25 220.29L529.71 220.22L530.17 220.14L530.63 220.05L531.1 219.96L531.56 219.86L532.02 219.76L532.48 219.65L532.94 219.54L533.4 219.42L533.87 219.31L534.33 219.17L534.79 219.01L535.25 218.82L535.71 218.6L536.17 218.37L536.64 218.11L537.1 217.84L537.56 217.54L538.02 217.24L538.48 216.92L538.94 216.59L539.41 216.23L539.87 215.83L540.33 215.38L540.79 214.89L541.25 214.38L541.71 213.83L542.18 213.26L542.64 212.67L543.1 212.06L543.56 211.44L544.02 210.82L544.48 210.2L544.95 209.57L545.41 208.93L545.87 208.25L546.33 207.54L546.79 206.8L547.25 206.04L547.72 205.27L548.18 204.49L548.64 203.7L549.1 202.91L549.56 202.12L550.02 201.34L550.49 200.58L550.95 199.83L551.41 199.1L551.87 198.4L552.33 197.73L552.79 197.08L553.26 196.44L553.72 195.81L554.18 195.19L554.64 194.58L555.1 193.98L555.56 193.39L556.03 192.8L556.49 192.22L556.95 191.64L557.41 191.07L557.87 190.51L558.33 189.95L558.8 189.39L559.26 188.83L559.72 188.28L560.18 187.74L560.64 187.21L561.1 186.7L561.57 186.19L562.03 185.69L562.49 185.19L562.95 184.7L563.41 184.2L563.87 183.71L564.34 183.2L564.8 182.7L565.26 182.18L565.72 181.65L566.18 181.11L566.64 180.56L567.11 179.98L567.57 179.39L568.03 178.79L568.49 178.18L568.95 177.56L569.41 176.92L569.88 176.28L570.34 175.62L570.8 174.96L571.26 174.29L571.72 173.62L572.18 172.94L572.65 172.26L573.11 171.57L573.57 170.88L574.03 170.18L574.49 169.49L574.95 168.78L575.42 168.06L575.88 167.32L576.34 166.58L576.8 165.82L577.26 165.06L577.72 164.3L578.18 163.53L578.65 162.77L579.11 162.01L579.57 161.26L580.03 160.51L580.49 159.77L580.95 159.05L581.42 158.35L581.88 157.65L582.34 156.96L582.8 156.27L583.26 155.58L583.72 154.89L584.19 154.21L584.65 153.53L585.11 152.85L585.57 152.19L586.03 151.54L586.49 150.9L586.96 150.28L587.42 149.68L587.88 149.09L588.34 148.52L588.8 147.98L589.26 147.46L589.73 146.96L590.19 146.47L590.65 145.99L591.11 145.52L591.57 145.07L592.03 144.62L592.5 144.19L592.96 143.76L593.42 143.35L593.88 142.94L594.34 142.54L594.8 142.14L595.27 141.75L595.73 141.37L596.19 140.99L596.65 140.61L597.11 140.24L597.57 139.87L598.04 139.51L598.5 139.15L598.96 138.8L599.42 138.45L599.88 138.11L600.34 137.77L600.81 137.44L601.27 137.12L601.73 136.8L602.19 136.49L602.65 136.19L603.11 135.9L603.58 135.61L604.04 135.33L604.5 135.05L604.96 134.78L605.42 134.5L605.88 134.24L606.35 133.97L606.81 133.71L607.27 133.46L607.73 133.2L608.19 132.95L608.65 132.71L609.12 132.47L609.58 132.23L610.04 132L610.5 131.77L610.96 131.55L611.42 131.33L611.89 131.11L612.35 130.9L612.81 130.7L613.27 130.5L613.73 130.31L614.19 130.12L614.66 129.93L615.12 129.75L615.58 129.57L616.04 129.38L616.5 129.2L616.96 129.02L617.43 128.84L617.89 128.67L618.35 128.49L618.81 128.32L619.27 128.14L619.73 127.97L620.2 127.8L620.66 127.64L621.12 127.47L621.58 127.31L622.04 127.15L622.5 126.99L622.97 126.83L623.43 126.67L623.89 126.52L624.35 126.37L624.81 126.22L625.27 126.08L625.74 125.94L626.2 125.8L626.66 125.66L627.12 125.52L627.58 125.39L628.04 125.27L628.51 125.14L628.97 125.02L629.43 124.9L629.89 124.78L630.35 124.67L630.81 124.56L631.28 124.46L631.74 124.36L632.2 124.26L632.66 124.17L633.12 124.08L633.58 123.99L634.05 123.9L634.51 123.82L634.97 123.73L635.43 123.65L635.89 123.56L636.35 123.48L636.82 123.4L637.28 123.32L637.74 123.24L638.2 123.16L638.66 123.08L639.12 123L639.58 122.92L640.05 122.85L640.51 122.77L640.97 122.7L641.43 122.62L641.89 122.55L642.35 122.48L642.82 122.41L643.28 122.34L643.74 122.27L644.2 122.2L644.66 122.13L645.12 122.07L645.59 122.01L646.05 121.94L646.51 121.88L646.97 121.82L647.43 121.76L647.89 121.7L648.36 121.64L648.82 121.59L649.28 121.53L649.74 121.48L650.2 121.43L650.66 121.37L651.13 121.33L651.59 121.28L652.05 121.23L652.51 121.18L652.97 121.14L653.43 121.1L653.9 121.06L654.36 121.02L654.82 120.98L655.28 120.94L655.74 120.91L656.2 120.87L656.67 120.84L657.13 120.81L657.59 120.78L658.05 120.75L658.51 120.73L658.97 120.7L659.44 120.68L659.9 120.66L660.36 120.63L660.82 120.61L661.28 120.59L661.74 120.57L662.21 120.54L662.67 120.52L663.13 120.5L663.59 120.48L664.05 120.46L664.51 120.44L664.98 120.42L665.44 120.4L665.9 120.38L666.36 120.36L666.82 120.34L667.28 120.32L667.75 120.31L668.21 120.29L668.67 120.27L669.13 120.26L669.59 120.24L670.05 120.23L670.52 120.21L670.98 120.2L671.44 120.19L671.9 120.18L672.36 120.17L672.82 120.16L673.29 120.15L673.75 120.14L674.21 120.13L674.67 120.13L675.13 120.12L675.59 120.12L676.06 120.11L676.52 120.11L676.98 120.11L677.44 120.11L677.9 120.11L678.36 120.11L678.83 120.11L679.29 120.11L679.75 120.11L680.21 120.11L680.67 120.11L681.13 120.11L681.6 120.11L682.06 120.11L682.52 120.11L682.98 120.11L683.44 120.11L683.9 120.11L684.37 120.11L684.83 120.11L685.29 120.11L685.75 120.11L686.21 120.11L686.67 120.11L687.14 120.11L687.6 120.11L688.06 120.11L688.52 120.11L688.98 120.11L689.44 120.11L689.91 120.11L690.37 120.11L690.83 120.11L691.29 120.11L691.75 120.11L692.21 120.11L692.68 120.11L693.14 120.11L693.6 120.11L694.06 120.11L694.52 120.11L694.98 120.11L695.45 120.11L695.91 120.11L696.37 120.11L696.83 120.11L697.29 120.11L697.75 120.11L698.22 120.11L698.68 120.11L699.14 120.11L699.6 120.11" stroke="#33cc00" stroke-width="1.5" fill="none" stroke-dasharray="5.5,2.4" stroke-dashoffset="3"/>
<rect x="515.4" y="23.65" width="184.2" height="196.85" fill="none" stroke="#000" stroke-width="1.4"/>
<line x1="511.9" y1="220.5" x2="515.4" y2="220.5" stroke="#000" stroke-width="1"/>
<text x="502.73" y="225.6" font-size="15.8" font-weight="normal" font-style="normal" fill="#000" stroke="#000" font-family='"Liberation Sans", sans-serif' textLength="8.15" lengthAdjust="spacingAndGlyphs" >0</text>
<line x1="511.9" y1="181.13" x2="515.4" y2="181.13" stroke="#000" stroke-width="1"/>
<text x="490.68" y="186.23" font-size="15.8" font-weight="normal" font-style="normal" fill="#000" stroke="#000" font-family='"Liberation Sans", sans-serif' textLength="20.36" lengthAdjust="spacingAndGlyphs" >0.2</text>
<line x1="511.9" y1="141.76" x2="515.4" y2="141.76" stroke="#000" stroke-width="1"/>
<text x="490.37" y="146.86" font-size="15.8" font-weight="normal" font-style="normal" fill="#000" stroke="#000" font-family='"Liberation Sans", sans-serif' textLength="20.36" lengthAdjust="spacingAndGlyphs" >0.4</text>
<line x1="511.9" y1="102.39" x2="515.4" y2="102.39" stroke="#000" stroke-width="1"/>
<text x="490.58" y="107.49" font-size="15.8" font-weight="normal" font-style="normal" fill="#000" stroke="#000" font-family='"Liberation Sans", sans-serif' textLength="20.36" lengthAdjust="spacingAndGlyphs" >0.6</text>
<line x1="511.9" y1="63.02" x2="515.4" y2="63.02" stroke="#000" stroke-width="1"/>
<text x="490.58" y="68.12" font-size="15.8" font-weight="normal" font-style="normal" fill="#000" stroke="#000" font-family='"Liberation Sans", sans-serif' textLength="20.36" lengthAdjust="spacingAndGlyphs" >0.8</text>
<line x1="511.9" y1="23.65" x2="515.4" y2="23.65" stroke="#000" stroke-width="1"/>
<text x="502.87" y="28.75" font-size="15.8" font-weight="normal" font-style="normal" fill="#000" stroke="#000" font-family='"Liberation Sans", sans-serif' textLength="8.15" lengthAdjust="spacingAndGlyphs" >1</text>
<line x1="515.4" y1="220.5" x2="515.4" y2="224" stroke="#000" stroke-width="1"/>
<text x="511.53" y="236.8" font-size="15.8" font-weight="normal" font-style="normal" fill="#000" stroke="#000" font-family='"Liberation Sans", sans-serif' textLength="8.15" lengthAdjust="spacingAndGlyphs" >0</text>
<line x1="552.24" y1="220.5" x2="552.24" y2="224" stroke="#000" stroke-width="1"/>
<text x="548.38" y="236.8" font-size="15.8" font-weight="normal" font-style="normal" fill="#000" stroke="#000" font-family='"Liberation Sans", sans-serif' textLength="8.15" lengthAdjust="spacingAndGlyphs" >5</text>
<line x1="589.08" y1="220.5" x2="589.08" y2="224" stroke="#000" stroke-width="1"/>
<text x="580.86" y="236.8" font-size="15.8" font-weight="normal" font-style="normal" fill="#000" stroke="#000" font-family='"Liberation Sans", sans-serif' textLength="16.29" lengthAdjust="spacingAndGlyphs" >10</text>
<line x1="625.92" y1="220.5" x2="625.92" y2="224" stroke="#000" stroke-width="1"/>
<text x="617.72" y="236.8" font-size="15.8" font-weight="normal" font-style="normal" fill="#000" stroke="#000" font-family='"Liberation Sans", sans-serif' textLength="16.29" lengthAdjust="spacingAndGlyphs" >15</text>
<line x1="662.76" y1="220.5" x2="662.76" y2="224" stroke="#000" stroke-width="1"/>
<text x="654.73" y="236.8" font-size="15.8" font-weight="normal" font-style="normal" fill="#000" stroke="#000" font-family='"Liberation Sans", sans-serif' textLength="16.29" lengthAdjust="spacingAndGlyphs" >20</text>
<line x1="699.6" y1="220.5" x2="699.6" y2="224" stroke="#000" stroke-width="1"/>
<text x="691.59" y="236.8" font-size="15.8" font-weight="normal" font-style="normal" fill="#000" stroke="#000" font-family='"Liberation Sans", sans-serif' textLength="16.29" lengthAdjust="spacingAndGlyphs" >25</text>
<text x="579.25" y="255.9" font-size="15.41" font-weight="normal" font-style="normal" fill="#000" stroke="#000" font-family='"Liberation Sans", sans-serif' textLength="58.43" lengthAdjust="spacingAndGlyphs" >Time (h)</text>
<g transform="rotate(-90)">
<text x="-166.41" y="478.2" font-size="14.33" font-weight="normal" font-style="normal" fill="#000" stroke="#000" font-family='"Liberation Sans", sans-serif' textLength="22.64" lengthAdjust="spacingAndGlyphs" >OD</text>
<text x="-143.45" y="480.2" font-size="8.74" font-weight="normal" font-style="normal" fill="#000" stroke="#000" font-family='"Liberation Sans", sans-serif' textLength="18.18" lengthAdjust="spacingAndGlyphs" >600</text>
<text x="-122.89" y="478.2" font-size="14.97" font-weight="normal" font-style="normal" fill="#000" stroke="#000" font-family='"Liberation Sans", sans-serif' textLength="36.08" lengthAdjust="spacingAndGlyphs" >(AU)</text>
</g>
<path d="M128.29 427.4L128.49 428.38L128.69 429.37L128.88 430.36L129.07 431.36L129.26 432.36L129.45 433.36L129.63 434.37L129.81 435.38L129.99 436.39L130.16 437.41L130.33 438.42L130.51 439.45L130.68 440.47L130.84 441.5L131.01 442.53L131.18 443.56L131.34 444.6L131.5 445.64L131.66 446.68L131.83 447.72L131.99 448.76L132.15 449.81L132.31 450.86L132.47 451.91L132.63 452.96L132.79 454.01L132.95 455.07L133.11 456.12L133.27 457.18L133.43 458.24L133.6 459.29L133.76 460.35L133.93 461.41L134.09 462.47L134.26 463.53L134.43 464.6L134.6 465.66L134.78 466.72L134.95 467.78L135.13 468.84L135.31 469.9L135.5 470.97L135.69 472.03L135.87 473.09L136.07 474.15L136.26 475.21L136.46 476.26L136.66 477.32L136.87 478.38L137.08 479.43L137.29 480.49L137.51 481.54L137.73 482.59L137.96 483.64L138.19 484.69L138.42 485.74L138.66 486.78L138.91 487.82L139.16 488.86L139.41 489.9L139.67 490.94L139.94 491.97L140.21 493L140.48 494.03L140.76 495.06L141.05 496.08L141.34 497.1L141.64 498.11L141.95 499.13L142.26 500.14L142.58 501.15L142.91 502.15L143.24 503.15L143.58 504.15L143.92 505.14L144.28 506.13L144.64 507.11L145.01 508.09L145.38 509.07L145.77 510.04L146.16 511.01L146.56 511.97L146.96 512.93L147.38 513.88L147.8 514.83L148.23 515.78L148.66 516.72L149.11 517.66L149.56 518.59L150.02 519.52L150.48 520.45L150.95 521.37L151.43 522.29L151.92 523.2L152.41 524.11L152.91 525.02L153.41 525.92L153.93 526.82L154.44 527.71L154.97 528.6L155.5 529.48L156.04 530.37L156.58 531.24L157.14 532.12L157.69 532.99L158.26 533.85L158.83 534.72L159.4 535.57L159.98 536.43L160.57 537.28L161.16 538.13L161.76 538.97L162.37 539.81L162.98 540.65L163.59 541.48L164.22 542.31L164.84 543.13L165.48 543.95L166.11 544.77L166.76 545.58L167.4 546.39L168.06 547.2L168.72 548L169.38 548.8L170.05 549.6L170.72 550.39L171.4 551.18L172.09 551.97L172.78 552.75L173.47 553.53L174.17 554.31L174.87 555.08L175.58 555.85L176.29 556.61L177 557.38L177.72 558.13L178.45 558.89L179.18 559.64L179.91 560.39L180.65 561.14L181.39 561.88L182.13 562.62L182.88 563.35L183.64 564.09L184.39 564.82L185.15 565.54L185.92 566.27L186.69 566.99L187.46 567.71L188.23 568.42L189.01 569.13L189.79 569.84L190.58 570.54L191.37 571.25L192.16 571.95L192.95 572.64L193.75 573.33L194.55 574.02L195.36 574.71L196.16 575.4L196.97 576.08L197.79 576.76L198.6 577.43L199.42 578.11L200.24 578.78L201.06 579.44L201.89 580.11L202.72 580.77L203.55 581.43L204.38 582.09L205.22 582.74L206.05 583.39L206.89 584.04L207.73 584.69L208.58 585.33L209.42 585.97L210.27 586.61L211.12 587.24L211.97 587.88L212.82 588.51L213.68 589.13L214.53 589.76L215.39 590.38L216.25 591L217.11 591.62L217.98 592.23L218.84 592.85L219.71 593.45L220.58 594.06L221.45 594.67L222.32 595.27L223.19 595.87L224.07 596.46L224.94 597.06L225.82 597.65L226.7 598.24L227.58 598.82L228.47 599.41L229.35 599.99L230.24 600.57L231.13 601.14L232.02 601.72L232.91 602.29L233.8 602.85L234.69 603.42L235.59 603.98L236.49 604.54L237.39 605.1L238.29 605.65L239.19 606.21L240.09 606.75L241 607.3L241.9 607.85L242.81 608.39L243.72 608.92L244.63 609.46L245.54 609.99L246.46 610.52L247.37 611.05L248.29 611.58L249.21 612.1L250.13 612.62L251.05 613.13L251.97 613.65L252.89 614.16L253.82 614.67L254.74 615.17L255.67 615.68L256.6 616.18L257.53 616.68L258.46 617.17L259.4 617.66L260.33 618.15L261.27 618.64L262.21 619.12L263.15 619.6L264.09 620.08L265.03 620.56L265.97 621.03L266.91 621.5L267.86 621.97L268.81 622.43L269.75 622.89L270.7 623.35L271.65 623.81L272.6 624.26L273.56 624.71L274.51 625.16L275.47 625.6L276.42 626.05L277.38 626.49L278.34 626.92L279.3 627.36L280.26 627.79L281.22 628.21L282.19 628.64L283.15 629.06L284.12 629.48L285.08 629.9L286.05 630.31L287.02 630.72L287.99 631.13L288.96 631.53L289.94 631.94L290.91 632.34L291.88 632.73L292.86 633.12L293.84 633.52L294.82 633.9L295.79 634.29L296.77 634.67L297.76 635.05L298.74 635.42L299.72 635.8L300.71 636.17L301.69 636.54L302.68 636.9L303.66 637.26L304.65 637.62L305.64 637.98L306.63 638.33L307.62 638.68L308.62 639.02L309.61 639.37L310.6 639.71L311.6 640.05L312.59 640.38L313.59 640.71L314.59 641.04L315.59 641.37L316.59 641.69L317.59 642.01L318.59 642.33L319.59 642.64L320.59 642.95L321.6 643.26L322.6 643.57L323.61 643.87L324.62 644.17L325.62 644.46L326.63 644.76L327.64 645.05L328.65 645.33L329.66 645.62L330.67 645.9L331.68 646.18L332.7 646.45L333.71 646.73L334.72 647L335.74 647.26L336.76 647.53L337.77 647.79L338.79 648.05L339.81 648.31L340.83 648.56L341.84 648.81L342.86 649.06L343.88 649.31L344.91 649.56L345.93 649.8L346.95 650.04L347.97 650.28L348.99 650.52L350.02 650.76L351.04 650.99L352.07 651.22L353.09 651.45L354.12 651.68L355.14 651.91L356.17 652.14L357.2 652.36L358.22 652.58L359.25 652.81L360.28 653.03L361.31 653.24L362.34 653.46L363.37 653.68L364.4 653.9L365.43 654.11L366.46 654.32L367.49 654.54L368.52 654.75L369.55 654.96L370.58 655.17L371.61 655.38L372.64 655.59L373.67 655.8L374.71 656.01L375.74 656.21L376.77 656.42L377.8 656.63L378.84 656.84L379.87 657.04L380.9 657.25L381.93 657.45L382.97 657.66L384 657.87L385.03 658.07L386.07 658.28L387.1 658.49L388.13 658.69L389.17 658.9L390.2 659.11L391.23 659.32L392.27 659.52L393.3 659.73L394.33 659.94L395.37 660.15L396.4 660.36L397.43 660.57L398.47 660.79L399.5 661L400.53 661.21L401.56 661.43L402.6 661.64L403.63 661.86L404.66 662.08L405.69 662.3L406.72 662.52L407.75 662.74L408.78 662.97L409.81 663.19L410.84 663.42L411.87 663.65L412.9 663.87L413.93 664.11L414.96 664.34L415.99 664.57L417.02 664.81L418.05 665.05L419.07 665.29L420.1 665.53L421.13 665.78L422.15 666.02L423.18 666.27L424.2 666.52L425.23 666.77L426.25 667.03L427.28 667.29" stroke="#000" stroke-width="2.3" fill="none"/>
<line x1="87" y1="469.5" x2="122" y2="469.5" stroke="#000" stroke-width="1.2" stroke-dasharray="1,1" fill="none"/>
<line x1="87" y1="655.5" x2="365" y2="655.5" stroke="#000" stroke-width="1.2" stroke-dasharray="1,1" fill="none"/>
<line x1="135.5" y1="481" x2="135.5" y2="706" stroke="#000" stroke-width="1.2" stroke-dasharray="1,1" fill="none"/>
<line x1="378.5" y1="668" x2="378.5" y2="706" stroke="#000" stroke-width="1.2" stroke-dasharray="1,1" fill="none"/>
<ellipse cx="135.4" cy="469.1" rx="13.2" ry="11.5" fill="#33cc00" stroke="#000" stroke-width="2.5"/>
<ellipse cx="377.9" cy="656" rx="13" ry="11.4" fill="#ec00ff" stroke="#000" stroke-width="2.5"/>
<defs><marker id="ah" viewBox="0 0 10 10" refX="10" refY="5" markerWidth="9.5" markerHeight="7.4" orient="auto-start-reverse" markerUnits="userSpaceOnUse" preserveAspectRatio="none"><path d="M0,0 L10,5 L0,10 L2.6,5 Z" fill="#000"/></marker></defs>
<line x1="108.5" y1="546.8" x2="108.5" y2="471" stroke="#000" stroke-width="1.5" marker-end="url(#ah)"/>
<line x1="108.5" y1="577" x2="108.5" y2="654" stroke="#000" stroke-width="1.5" marker-end="url(#ah)"/>
<line x1="230" y1="681.7" x2="136.3" y2="681.7" stroke="#000" stroke-width="1.5" marker-end="url(#ah)"/>
<line x1="282" y1="681.7" x2="376" y2="681.7" stroke="#000" stroke-width="1.5" marker-end="url(#ah)"/>
<path fill-rule="evenodd" fill="#000" d="M99.3 553.3L109.6 571.5L89.2 571.5ZM98.45 556.68L105.71 569.5L91.34 569.5Z"/>
<text x="109.01" y="571.7" font-size="25.6" font-weight="normal" font-style="italic" fill="#000" stroke="none" font-family='"Liberation Serif", serif' textLength="21.11" lengthAdjust="spacingAndGlyphs" >ω</text>
<path fill-rule="evenodd" fill="#000" d="M247.8 669.6L258.1 688L237.7 688ZM246.96 673.01L254.23 686L239.82 686Z"/>
<text x="260.87" y="688" font-size="25.71" font-weight="normal" font-style="italic" fill="#000" stroke="none" font-family='"Liberation Serif", serif' textLength="14.67" lengthAdjust="spacingAndGlyphs" >β</text>
<text x="23.74" y="473.1" font-size="14.32" font-weight="normal" font-style="normal" fill="#000" stroke="none" font-family='"Liberation Sans", sans-serif' textLength="62.93" lengthAdjust="spacingAndGlyphs" >Superior</text>
<text x="32.3" y="660.8" font-size="14.1" font-weight="normal" font-style="normal" fill="#000" stroke="none" font-family='"Liberation Sans", sans-serif' textLength="53.89" lengthAdjust="spacingAndGlyphs" >Inferior</text>
<text x="118.08" y="718.2" font-size="13.75" font-weight="normal" font-style="normal" fill="#000" stroke="none" font-family='"Liberation Sans", sans-serif' textLength="34.28" lengthAdjust="spacingAndGlyphs" >Slow</text>
<text x="362.55" y="717.8" font-size="13.08" font-weight="normal" font-style="normal" fill="#000" stroke="none" font-family='"Liberation Sans", sans-serif' textLength="29.66" lengthAdjust="spacingAndGlyphs" >Fast</text>
<text x="205.26" y="740.2" font-size="17.19" font-weight="normal" font-style="normal" fill="#000" stroke="none" font-family='"Liberation Sans", sans-serif' textLength="102.35" lengthAdjust="spacingAndGlyphs" >Colonization</text>
<g transform="rotate(-90)">
<text x="-612.77" y="42" font-size="15.9" font-weight="normal" font-style="normal" fill="#000" stroke="none" font-family='"Liberation Sans", sans-serif' textLength="102.01" lengthAdjust="spacingAndGlyphs" >Competition</text>
</g>
<text x="140.1" y="448.6" font-size="14.24" font-weight="normal" font-style="italic" fill="#36b818" stroke="none" font-family='"Liberation Sans", sans-serif' textLength="189.86" lengthAdjust="spacingAndGlyphs" >Pseudomonas aeruginosa</text>
<text x="311.79" y="627.4" font-size="14.1" font-weight="normal" font-style="italic" fill="#dd00ee" stroke="none" font-family='"Liberation Sans", sans-serif' textLength="114.44" lengthAdjust="spacingAndGlyphs" >Escherichia coli</text>
<rect x="515.2" y="287.25" width="184.2" height="179.85" fill="#ec00ff"/>
<path d="M515.2 454.15L576.6 359.19L589.39 349.3L638 318.72L699.4 287.25L699.4 467.1L515.2 467.1Z" fill="#35dc00"/>
<path d="M515.2 454.15L576.6 359.19L589.39 349.3L638 318.72L699.4 287.25" stroke="#000" stroke-width="1.2" fill="none" stroke-linejoin="round"/>
<rect x="515.2" y="287.25" width="184.2" height="179.85" fill="none" stroke="#000" stroke-width="1.3"/>
<line x1="511.7" y1="467.1" x2="515.2" y2="467.1" stroke="#000" stroke-width="1.1"/>
<text x="502.44" y="471.34" font-size="15" font-weight="normal" font-style="normal" fill="#000" stroke="#000" font-family='"Liberation Sans", sans-serif' textLength="8.34" lengthAdjust="spacingAndGlyphs" >0</text>
<line x1="511.7" y1="422.14" x2="515.2" y2="422.14" stroke="#000" stroke-width="1.1"/>
<text x="481.64" y="426.37" font-size="15" font-weight="normal" font-style="normal" fill="#000" stroke="#000" font-family='"Liberation Sans", sans-serif' textLength="29.19" lengthAdjust="spacingAndGlyphs" >0.25</text>
<line x1="511.7" y1="377.18" x2="515.2" y2="377.18" stroke="#000" stroke-width="1.1"/>
<text x="489.98" y="381.41" font-size="15" font-weight="normal" font-style="normal" fill="#000" stroke="#000" font-family='"Liberation Sans", sans-serif' textLength="20.85" lengthAdjust="spacingAndGlyphs" >0.5</text>
<line x1="511.7" y1="332.21" x2="515.2" y2="332.21" stroke="#000" stroke-width="1.1"/>
<text x="481.64" y="336.45" font-size="15" font-weight="normal" font-style="normal" fill="#000" stroke="#000" font-family='"Liberation Sans", sans-serif' textLength="29.19" lengthAdjust="spacingAndGlyphs" >0.75</text>
<line x1="511.7" y1="287.25" x2="515.2" y2="287.25" stroke="#000" stroke-width="1.1"/>
<text x="502.59" y="291.49" font-size="15" font-weight="normal" font-style="normal" fill="#000" stroke="#000" font-family='"Liberation Sans", sans-serif' textLength="8.34" lengthAdjust="spacingAndGlyphs" >1</text>
<line x1="515.2" y1="467.1" x2="515.2" y2="470.6" stroke="#000" stroke-width="1.1"/>
<text x="507.06" y="482.7" font-size="14.3" font-weight="normal" font-style="normal" fill="#000" stroke="#000" font-family='"Liberation Sans", sans-serif' textLength="15.91" lengthAdjust="spacingAndGlyphs" >12</text>
<line x1="576.6" y1="467.1" x2="576.6" y2="470.6" stroke="#000" stroke-width="1.1"/>
<text x="568.5" y="482.7" font-size="14.3" font-weight="normal" font-style="normal" fill="#000" stroke="#000" font-family='"Liberation Sans", sans-serif' textLength="15.91" lengthAdjust="spacingAndGlyphs" >24</text>
<line x1="638" y1="467.1" x2="638" y2="470.6" stroke="#000" stroke-width="1.1"/>
<text x="630.09" y="482.7" font-size="14.3" font-weight="normal" font-style="normal" fill="#000" stroke="#000" font-family='"Liberation Sans", sans-serif' textLength="15.91" lengthAdjust="spacingAndGlyphs" >36</text>
<line x1="699.4" y1="467.1" x2="699.4" y2="470.6" stroke="#000" stroke-width="1.1"/>
<text x="691.59" y="482.7" font-size="14.3" font-weight="normal" font-style="normal" fill="#000" stroke="#000" font-family='"Liberation Sans", sans-serif' textLength="15.91" lengthAdjust="spacingAndGlyphs" >48</text>
<text x="578.64" y="502" font-size="15.12" font-weight="normal" font-style="normal" fill="#000" stroke="#000" font-family='"Liberation Sans", sans-serif' textLength="59.24" lengthAdjust="spacingAndGlyphs" >Time (h)</text>
<g transform="translate(472.45 377.3) rotate(14.7)">
<path fill-rule="evenodd" fill="#000" d="M-4.6 0a4.6 8.9 0 1 0 9.2 0a4.6 8.9 0 1 0 -9.2 0Z M-3.0 0a3.0 8.05 0 1 0 6.0 0a3.0 8.05 0 1 0 -6.0 0Z"/>
</g>
<rect x="469.85" y="376.85" width="5.8" height="1.1" fill="#000"/>
<rect x="515.2" y="532.3" width="184.3" height="173.1" fill="#ec00ff"/>
<path d="M515.3 686.1L517.1 690.8L520.1 692.6L522.5 689.1L525.7 682.7L528.2 684.1L530.2 683.1L532.6 675L535.2 667L539.3 665L541.3 656.9L543.3 642.7L545.3 637.7L549.3 622.6L552.4 608.4L554.4 590.3L556.8 580.2L560.4 574.5L568.5 571.7L574.6 570.1L579.6 569.1L581.6 569.7L589.7 567.7L596.5 568.4L602.2 569.2L603.8 571.1L611.1 571.4L612.4 575.7L616 577.3L622.5 579.2L629 580L633 582L638.7 582.5L647.7 582.8L649.8 585.4L655 586.5L663.1 587.4L671.2 588.7L679.3 590.6L687.5 593.5L694 593.9L699.5 593L699.5 705.4L515.2 705.4Z" fill="#35dc00"/>
<path d="M515.3 686.1L517.1 690.8L520.1 692.6L522.5 689.1L525.7 682.7L528.2 684.1L530.2 683.1L532.6 675L535.2 667L539.3 665L541.3 656.9L543.3 642.7L545.3 637.7L549.3 622.6L552.4 608.4L554.4 590.3L556.8 580.2L560.4 574.5L568.5 571.7L574.6 570.1L579.6 569.1L581.6 569.7L589.7 567.7L596.5 568.4L602.2 569.2L603.8 571.1L611.1 571.4L612.4 575.7L616 577.3L622.5 579.2L629 580L633 582L638.7 582.5L647.7 582.8L649.8 585.4L655 586.5L663.1 587.4L671.2 588.7L679.3 590.6L687.5 593.5L694 593.9L699.5 593" stroke="#000" stroke-width="1.2" fill="none" stroke-linejoin="round"/>
<rect x="515.2" y="532.3" width="184.3" height="173.1" fill="none" stroke="#000" stroke-width="1.3"/>
<line x1="511.7" y1="705.4" x2="515.2" y2="705.4" stroke="#000" stroke-width="1.1"/>
<text x="502.42" y="710.4" font-size="14.75" font-weight="normal" font-style="normal" fill="#000" stroke="#000" font-family='"Liberation Sans", sans-serif' textLength="8.37" lengthAdjust="spacingAndGlyphs" >0</text>
<line x1="511.7" y1="662.12" x2="515.2" y2="662.12" stroke="#000" stroke-width="1.1"/>
<text x="481.55" y="667.12" font-size="14.75" font-weight="normal" font-style="normal" fill="#000" stroke="#000" font-family='"Liberation Sans", sans-serif' textLength="29.28" lengthAdjust="spacingAndGlyphs" >0.25</text>
<line x1="511.7" y1="618.85" x2="515.2" y2="618.85" stroke="#000" stroke-width="1.1"/>
<text x="489.92" y="623.85" font-size="14.75" font-weight="normal" font-style="normal" fill="#000" stroke="#000" font-family='"Liberation Sans", sans-serif' textLength="20.91" lengthAdjust="spacingAndGlyphs" >0.5</text>
<line x1="511.7" y1="575.57" x2="515.2" y2="575.57" stroke="#000" stroke-width="1.1"/>
<text x="481.55" y="580.57" font-size="14.75" font-weight="normal" font-style="normal" fill="#000" stroke="#000" font-family='"Liberation Sans", sans-serif' textLength="29.28" lengthAdjust="spacingAndGlyphs" >0.75</text>
<line x1="511.7" y1="532.3" x2="515.2" y2="532.3" stroke="#000" stroke-width="1.1"/>
<text x="502.57" y="537.3" font-size="14.75" font-weight="normal" font-style="normal" fill="#000" stroke="#000" font-family='"Liberation Sans", sans-serif' textLength="8.37" lengthAdjust="spacingAndGlyphs" >1</text>
<line x1="515.2" y1="705.4" x2="515.2" y2="708.9" stroke="#000" stroke-width="1.1"/>
<text x="511.31" y="721" font-size="14" font-weight="normal" font-style="normal" fill="#000" stroke="#000" font-family='"Liberation Sans", sans-serif' textLength="7.79" lengthAdjust="spacingAndGlyphs" >0</text>
<line x1="567.4" y1="705.4" x2="567.4" y2="708.9" stroke="#000" stroke-width="1.1"/>
<text x="559.43" y="721" font-size="14" font-weight="normal" font-style="normal" fill="#000" stroke="#000" font-family='"Liberation Sans", sans-serif' textLength="15.57" lengthAdjust="spacingAndGlyphs" >12</text>
<line x1="619.6" y1="705.4" x2="619.6" y2="708.9" stroke="#000" stroke-width="1.1"/>
<text x="611.67" y="721" font-size="14" font-weight="normal" font-style="normal" fill="#000" stroke="#000" font-family='"Liberation Sans", sans-serif' textLength="15.57" lengthAdjust="spacingAndGlyphs" >24</text>
<line x1="671.8" y1="705.4" x2="671.8" y2="708.9" stroke="#000" stroke-width="1.1"/>
<text x="664.05" y="721" font-size="14" font-weight="normal" font-style="normal" fill="#000" stroke="#000" font-family='"Liberation Sans", sans-serif' textLength="15.57" lengthAdjust="spacingAndGlyphs" >36</text>
<text x="578.64" y="739.6" font-size="14.68" font-weight="normal" font-style="normal" fill="#000" stroke="#000" font-family='"Liberation Sans", sans-serif' textLength="59.24" lengthAdjust="spacingAndGlyphs" >Time (h)</text>
<path fill-rule="evenodd" fill="#000" d="M467.6 619.1a7.75 8.6 0 1 0 15.5 0a7.75 8.6 0 1 0 -15.5 0Z M469.85 619.1a5.5 7.85 0 1 0 11 0a5.5 7.85 0 1 0 -11 0Z"/>
<rect x="471.55" y="618.2" width="7.6" height="1.5" fill="#000"/>
<rect x="471.45" y="617.5" width="0.8" height="2.8" fill="#000"/>
<rect x="478.45" y="617.5" width="0.8" height="2.8" fill="#000"/>
<text x="0.06" y="22.6" font-size="31.98" font-weight="bold" font-style="normal" fill="#000" stroke="#000" font-family='"Liberation Sans", sans-serif' textLength="22.77" lengthAdjust="spacingAndGlyphs" >A</text>
<text x="-1.04" y="201.9" font-size="31.54" font-weight="bold" font-style="normal" fill="#000" stroke="#000" font-family='"Liberation Sans", sans-serif' textLength="20.43" lengthAdjust="spacingAndGlyphs" >B</text>
<text x="448.36" y="23.4" font-size="32.65" font-weight="bold" font-style="normal" fill="#000" stroke="#000" font-family='"Liberation Sans", sans-serif' textLength="20.1" lengthAdjust="spacingAndGlyphs" >C</text>
<text x="-1.17" y="422.4" font-size="31.69" font-weight="bold" font-style="normal" fill="#000" stroke="#000" font-family='"Liberation Sans", sans-serif' textLength="23.43" lengthAdjust="spacingAndGlyphs" >D</text>
<text x="447.25" y="277.9" font-size="31.83" font-weight="bold" font-style="normal" fill="#000" stroke="#000" font-family='"Liberation Sans", sans-serif' textLength="17.48" lengthAdjust="spacingAndGlyphs" >E</text>
<text x="448.04" y="524.4" font-size="32.41" font-weight="bold" font-style="normal" fill="#000" stroke="#000" font-family='"Liberation Sans", sans-serif' textLength="17.94" lengthAdjust="spacingAndGlyphs" >F</text>
</svg></body></html>
